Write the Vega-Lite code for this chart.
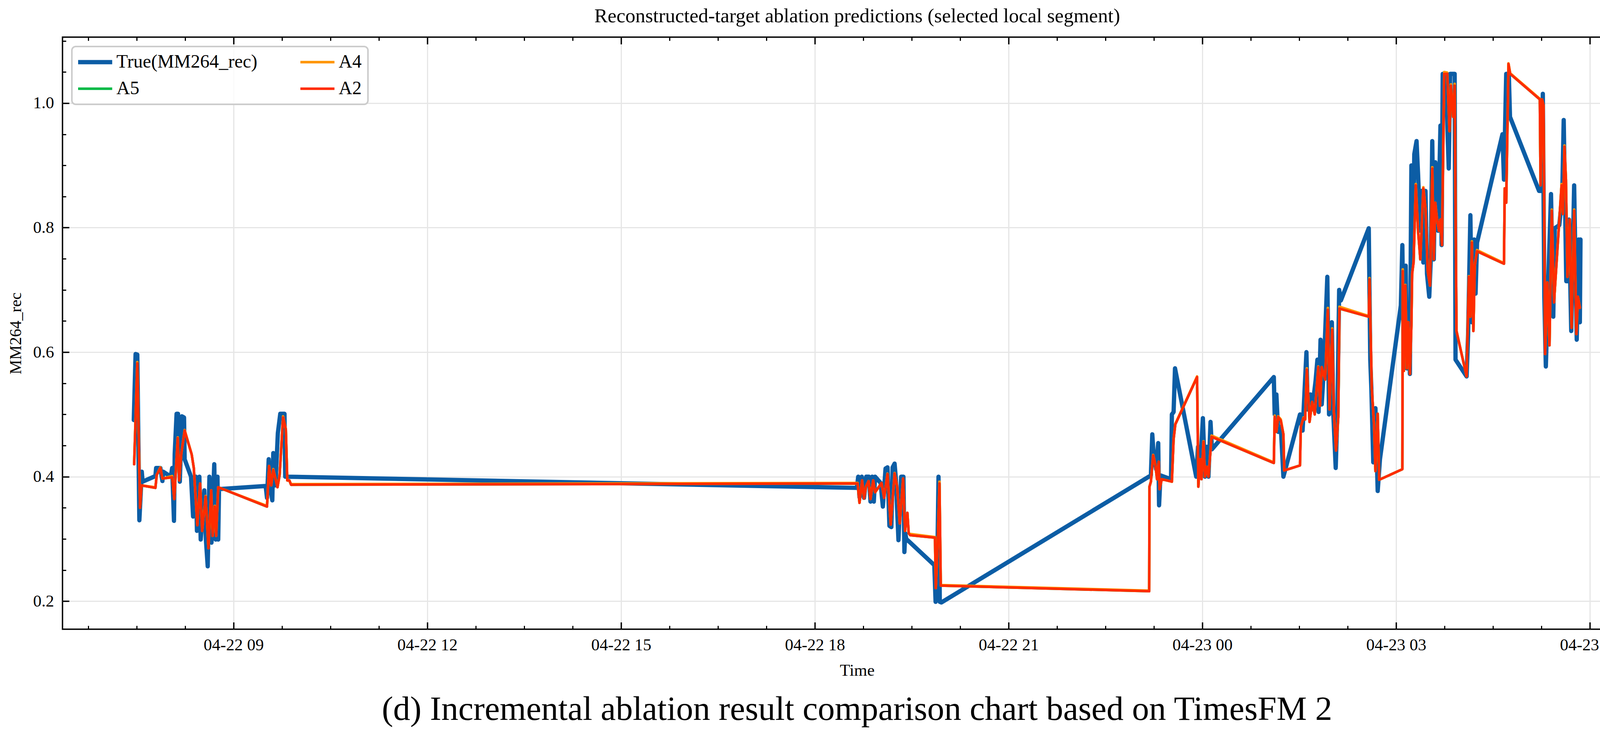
{
  "$schema": "https://vega.github.io/schema/vega-lite/v6.json",
  "width": 4252,
  "height": 1873,
  "autosize": {"type": "fit", "contains": "padding"},
  "padding": {"left": 19, "top": 15, "right": 22, "bottom": 14},
  "background": "white",
  "title": {"text": "(d) Incremental ablation result comparison chart based on TimesFM 2", "orient": "bottom", "anchor": "middle", "fontSize": 87, "font": "Liberation Serif", "fontWeight": "normal", "color": "black", "offset": 36},
  "config": {"font": "Liberation Serif", "view": {"stroke": "black", "strokeWidth": 3.5}},
  "datasets": {
    "truth": [
      {"t": "2025-04-22T07:27:20Z", "v": 0.491},
      {"t": "2025-04-22T07:29:00Z", "v": 0.597},
      {"t": "2025-04-22T07:30:35Z", "v": 0.596},
      {"t": "2025-04-22T07:32:30Z", "v": 0.330},
      {"t": "2025-04-22T07:34:45Z", "v": 0.408},
      {"t": "2025-04-22T07:35:30Z", "v": 0.392},
      {"t": "2025-04-22T07:47:25Z", "v": 0.401},
      {"t": "2025-04-22T07:48:05Z", "v": 0.414},
      {"t": "2025-04-22T07:52:00Z", "v": 0.414},
      {"t": "2025-04-22T07:53:55Z", "v": 0.393},
      {"t": "2025-04-22T07:54:35Z", "v": 0.408},
      {"t": "2025-04-22T08:01:40Z", "v": 0.400},
      {"t": "2025-04-22T08:03:00Z", "v": 0.414},
      {"t": "2025-04-22T08:04:40Z", "v": 0.329},
      {"t": "2025-04-22T08:05:20Z", "v": 0.436},
      {"t": "2025-04-22T08:07:05Z", "v": 0.501},
      {"t": "2025-04-22T08:08:25Z", "v": 0.501},
      {"t": "2025-04-22T08:10:05Z", "v": 0.392},
      {"t": "2025-04-22T08:12:00Z", "v": 0.497},
      {"t": "2025-04-22T08:14:00Z", "v": 0.495},
      {"t": "2025-04-22T08:14:35Z", "v": 0.428},
      {"t": "2025-04-22T08:20:30Z", "v": 0.400},
      {"t": "2025-04-22T08:22:25Z", "v": 0.336},
      {"t": "2025-04-22T08:25:00Z", "v": 0.400},
      {"t": "2025-04-22T08:26:00Z", "v": 0.313},
      {"t": "2025-04-22T08:28:15Z", "v": 0.400},
      {"t": "2025-04-22T08:29:30Z", "v": 0.299},
      {"t": "2025-04-22T08:32:50Z", "v": 0.378},
      {"t": "2025-04-22T08:34:20Z", "v": 0.299},
      {"t": "2025-04-22T08:36:00Z", "v": 0.256},
      {"t": "2025-04-22T08:37:35Z", "v": 0.400},
      {"t": "2025-04-22T08:39:30Z", "v": 0.294},
      {"t": "2025-04-22T08:42:05Z", "v": 0.420},
      {"t": "2025-04-22T08:43:25Z", "v": 0.299},
      {"t": "2025-04-22T08:45:05Z", "v": 0.400},
      {"t": "2025-04-22T08:45:45Z", "v": 0.299},
      {"t": "2025-04-22T08:46:30Z", "v": 0.380},
      {"t": "2025-04-22T09:29:50Z", "v": 0.385},
      {"t": "2025-04-22T09:31:05Z", "v": 0.366},
      {"t": "2025-04-22T09:32:40Z", "v": 0.428},
      {"t": "2025-04-22T09:34:00Z", "v": 0.386},
      {"t": "2025-04-22T09:36:00Z", "v": 0.362},
      {"t": "2025-04-22T09:36:55Z", "v": 0.438},
      {"t": "2025-04-22T09:38:55Z", "v": 0.386},
      {"t": "2025-04-22T09:41:10Z", "v": 0.470},
      {"t": "2025-04-22T09:43:25Z", "v": 0.501},
      {"t": "2025-04-22T09:47:20Z", "v": 0.501},
      {"t": "2025-04-22T09:48:00Z", "v": 0.400},
      {"t": "2025-04-22T18:39:05Z", "v": 0.382},
      {"t": "2025-04-22T18:40:18Z", "v": 0.400},
      {"t": "2025-04-22T18:41:30Z", "v": 0.367},
      {"t": "2025-04-22T18:43:36Z", "v": 0.400},
      {"t": "2025-04-22T18:45:42Z", "v": 0.366},
      {"t": "2025-04-22T18:47:48Z", "v": 0.400},
      {"t": "2025-04-22T18:50:12Z", "v": 0.400},
      {"t": "2025-04-22T18:51:42Z", "v": 0.360},
      {"t": "2025-04-22T18:53:18Z", "v": 0.400},
      {"t": "2025-04-22T18:54:48Z", "v": 0.360},
      {"t": "2025-04-22T18:56:00Z", "v": 0.400},
      {"t": "2025-04-22T19:01:06Z", "v": 0.390},
      {"t": "2025-04-22T19:03:12Z", "v": 0.352},
      {"t": "2025-04-22T19:05:42Z", "v": 0.413},
      {"t": "2025-04-22T19:07:30Z", "v": 0.415},
      {"t": "2025-04-22T19:09:18Z", "v": 0.321},
      {"t": "2025-04-22T19:11:06Z", "v": 0.319},
      {"t": "2025-04-22T19:12:18Z", "v": 0.415},
      {"t": "2025-04-22T19:14:06Z", "v": 0.421},
      {"t": "2025-04-22T19:15:18Z", "v": 0.396},
      {"t": "2025-04-22T19:17:42Z", "v": 0.298},
      {"t": "2025-04-22T19:20:12Z", "v": 0.400},
      {"t": "2025-04-22T19:22:18Z", "v": 0.400},
      {"t": "2025-04-22T19:23:12Z", "v": 0.279},
      {"t": "2025-04-22T19:24:00Z", "v": 0.309},
      {"t": "2025-04-22T19:25:00Z", "v": 0.300},
      {"t": "2025-04-22T19:51:00Z", "v": 0.258},
      {"t": "2025-04-22T19:52:12Z", "v": 0.199},
      {"t": "2025-04-22T19:53:24Z", "v": 0.215},
      {"t": "2025-04-22T19:54:54Z", "v": 0.400},
      {"t": "2025-04-22T19:56:06Z", "v": 0.199},
      {"t": "2025-04-22T19:57:36Z", "v": 0.198},
      {"t": "2025-04-22T23:12:12Z", "v": 0.402},
      {"t": "2025-04-22T23:13:30Z", "v": 0.468},
      {"t": "2025-04-22T23:14:42Z", "v": 0.436},
      {"t": "2025-04-22T23:17:06Z", "v": 0.412},
      {"t": "2025-04-22T23:19:00Z", "v": 0.454},
      {"t": "2025-04-22T23:19:48Z", "v": 0.354},
      {"t": "2025-04-22T23:21:06Z", "v": 0.402},
      {"t": "2025-04-22T23:30:54Z", "v": 0.396},
      {"t": "2025-04-22T23:31:42Z", "v": 0.500},
      {"t": "2025-04-22T23:33:18Z", "v": 0.504},
      {"t": "2025-04-22T23:34:36Z", "v": 0.574},
      {"t": "2025-04-22T23:54:18Z", "v": 0.400},
      {"t": "2025-04-22T23:56:00Z", "v": 0.448},
      {"t": "2025-04-22T23:57:36Z", "v": 0.400},
      {"t": "2025-04-23T00:00:30Z", "v": 0.494},
      {"t": "2025-04-23T00:02:24Z", "v": 0.400},
      {"t": "2025-04-23T00:04:00Z", "v": 0.448},
      {"t": "2025-04-23T00:05:40Z", "v": 0.400},
      {"t": "2025-04-23T00:07:36Z", "v": 0.488},
      {"t": "2025-04-23T00:08:54Z", "v": 0.444},
      {"t": "2025-04-23T01:06:24Z", "v": 0.560},
      {"t": "2025-04-23T01:07:12Z", "v": 0.500},
      {"t": "2025-04-23T01:08:48Z", "v": 0.532},
      {"t": "2025-04-23T01:10:24Z", "v": 0.472},
      {"t": "2025-04-23T01:12:54Z", "v": 0.480},
      {"t": "2025-04-23T01:15:18Z", "v": 0.400},
      {"t": "2025-04-23T01:30:42Z", "v": 0.500},
      {"t": "2025-04-23T01:33:06Z", "v": 0.474},
      {"t": "2025-04-23T01:33:54Z", "v": 0.500},
      {"t": "2025-04-23T01:36:42Z", "v": 0.600},
      {"t": "2025-04-23T01:37:54Z", "v": 0.508},
      {"t": "2025-04-23T01:40:24Z", "v": 0.532},
      {"t": "2025-04-23T01:42:00Z", "v": 0.508},
      {"t": "2025-04-23T01:45:12Z", "v": 0.554},
      {"t": "2025-04-23T01:46:54Z", "v": 0.588},
      {"t": "2025-04-23T01:48:00Z", "v": 0.504},
      {"t": "2025-04-23T01:49:48Z", "v": 0.620},
      {"t": "2025-04-23T01:50:54Z", "v": 0.516},
      {"t": "2025-04-23T01:52:48Z", "v": 0.572},
      {"t": "2025-04-23T01:56:06Z", "v": 0.721},
      {"t": "2025-04-23T01:57:42Z", "v": 0.500},
      {"t": "2025-04-23T02:00:18Z", "v": 0.648},
      {"t": "2025-04-23T02:01:36Z", "v": 0.504},
      {"t": "2025-04-23T02:03:54Z", "v": 0.414},
      {"t": "2025-04-23T02:05:30Z", "v": 0.508},
      {"t": "2025-04-23T02:07:06Z", "v": 0.700},
      {"t": "2025-04-23T02:08:42Z", "v": 0.683},
      {"t": "2025-04-23T02:34:36Z", "v": 0.799},
      {"t": "2025-04-23T02:36:00Z", "v": 0.588},
      {"t": "2025-04-23T02:37:00Z", "v": 0.542},
      {"t": "2025-04-23T02:38:48Z", "v": 0.423},
      {"t": "2025-04-23T02:40:48Z", "v": 0.510},
      {"t": "2025-04-23T02:42:54Z", "v": 0.377},
      {"t": "2025-04-23T02:45:00Z", "v": 0.428},
      {"t": "2025-04-23T03:04:24Z", "v": 0.675},
      {"t": "2025-04-23T03:05:48Z", "v": 0.772},
      {"t": "2025-04-23T03:07:12Z", "v": 0.574},
      {"t": "2025-04-23T03:08:54Z", "v": 0.739},
      {"t": "2025-04-23T03:10:00Z", "v": 0.574},
      {"t": "2025-04-23T03:11:24Z", "v": 0.666},
      {"t": "2025-04-23T03:12:48Z", "v": 0.565},
      {"t": "2025-04-23T03:14:12Z", "v": 0.900},
      {"t": "2025-04-23T03:15:30Z", "v": 0.744},
      {"t": "2025-04-23T03:16:54Z", "v": 0.918},
      {"t": "2025-04-23T03:19:00Z", "v": 0.939},
      {"t": "2025-04-23T03:20:24Z", "v": 0.886},
      {"t": "2025-04-23T03:22:30Z", "v": 0.795},
      {"t": "2025-04-23T03:23:54Z", "v": 0.859},
      {"t": "2025-04-23T03:25:18Z", "v": 0.744},
      {"t": "2025-04-23T03:27:18Z", "v": 0.859},
      {"t": "2025-04-23T03:28:42Z", "v": 0.726},
      {"t": "2025-04-23T03:30:48Z", "v": 0.689},
      {"t": "2025-04-23T03:32:12Z", "v": 0.749},
      {"t": "2025-04-23T03:33:36Z", "v": 0.939},
      {"t": "2025-04-23T03:35:00Z", "v": 0.749},
      {"t": "2025-04-23T03:36:24Z", "v": 0.905},
      {"t": "2025-04-23T03:37:48Z", "v": 0.882},
      {"t": "2025-04-23T03:39:06Z", "v": 0.795},
      {"t": "2025-04-23T03:41:12Z", "v": 0.964},
      {"t": "2025-04-23T03:42:18Z", "v": 0.772},
      {"t": "2025-04-23T03:43:18Z", "v": 1.047},
      {"t": "2025-04-23T03:46:06Z", "v": 1.047},
      {"t": "2025-04-23T03:48:54Z", "v": 0.895},
      {"t": "2025-04-23T03:50:12Z", "v": 1.047},
      {"t": "2025-04-23T03:54:24Z", "v": 1.047},
      {"t": "2025-04-23T03:55:12Z", "v": 0.588},
      {"t": "2025-04-23T04:05:30Z", "v": 0.561},
      {"t": "2025-04-23T04:06:54Z", "v": 0.629},
      {"t": "2025-04-23T04:09:00Z", "v": 0.820},
      {"t": "2025-04-23T04:10:24Z", "v": 0.648},
      {"t": "2025-04-23T04:12:30Z", "v": 0.781},
      {"t": "2025-04-23T04:13:48Z", "v": 0.694},
      {"t": "2025-04-23T04:15:12Z", "v": 0.776},
      {"t": "2025-04-23T04:38:48Z", "v": 0.950},
      {"t": "2025-04-23T04:40:12Z", "v": 0.877},
      {"t": "2025-04-23T04:42:18Z", "v": 1.047},
      {"t": "2025-04-23T04:44:42Z", "v": 1.047},
      {"t": "2025-04-23T04:45:48Z", "v": 0.978},
      {"t": "2025-04-23T05:12:48Z", "v": 0.859},
      {"t": "2025-04-23T05:14:54Z", "v": 0.859},
      {"t": "2025-04-23T05:16:18Z", "v": 1.015},
      {"t": "2025-04-23T05:17:42Z", "v": 0.689},
      {"t": "2025-04-23T05:19:06Z", "v": 0.577},
      {"t": "2025-04-23T05:21:12Z", "v": 0.703},
      {"t": "2025-04-23T05:23:54Z", "v": 0.854},
      {"t": "2025-04-23T05:26:00Z", "v": 0.657},
      {"t": "2025-04-23T05:27:24Z", "v": 0.799},
      {"t": "2025-04-23T05:31:36Z", "v": 0.804},
      {"t": "2025-04-23T05:34:18Z", "v": 0.850},
      {"t": "2025-04-23T05:35:42Z", "v": 0.973},
      {"t": "2025-04-23T05:37:06Z", "v": 0.822},
      {"t": "2025-04-23T05:38:06Z", "v": 0.714},
      {"t": "2025-04-23T05:39:30Z", "v": 0.714},
      {"t": "2025-04-23T05:40:36Z", "v": 0.813},
      {"t": "2025-04-23T05:42:42Z", "v": 0.634},
      {"t": "2025-04-23T05:45:24Z", "v": 0.868},
      {"t": "2025-04-23T05:47:48Z", "v": 0.620},
      {"t": "2025-04-23T05:49:36Z", "v": 0.781},
      {"t": "2025-04-23T05:50:42Z", "v": 0.648},
      {"t": "2025-04-23T05:51:18Z", "v": 0.781}
    ],
    "pred": [
      {"t": "2025-04-22T07:27:40Z", "a5": 0.420, "a4": 0.421, "a2": 0.420},
      {"t": "2025-04-22T07:30:35Z", "a5": 0.582, "a4": 0.584, "a2": 0.582},
      {"t": "2025-04-22T07:31:55Z", "a5": 0.464, "a4": 0.464, "a2": 0.464},
      {"t": "2025-04-22T07:33:10Z", "a5": 0.350, "a4": 0.351, "a2": 0.350},
      {"t": "2025-04-22T07:34:30Z", "a5": 0.386, "a4": 0.386, "a2": 0.386},
      {"t": "2025-04-22T07:47:25Z", "a5": 0.382, "a4": 0.383, "a2": 0.382},
      {"t": "2025-04-22T07:48:40Z", "a5": 0.403, "a4": 0.403, "a2": 0.403},
      {"t": "2025-04-22T07:52:00Z", "a5": 0.414, "a4": 0.415, "a2": 0.414},
      {"t": "2025-04-22T07:53:55Z", "a5": 0.397, "a4": 0.397, "a2": 0.397},
      {"t": "2025-04-22T08:03:00Z", "a5": 0.399, "a4": 0.401, "a2": 0.399},
      {"t": "2025-04-22T08:04:55Z", "a5": 0.364, "a4": 0.364, "a2": 0.364},
      {"t": "2025-04-22T08:08:10Z", "a5": 0.462, "a4": 0.463, "a2": 0.462},
      {"t": "2025-04-22T08:09:30Z", "a5": 0.394, "a4": 0.394, "a2": 0.394},
      {"t": "2025-04-22T08:11:25Z", "a5": 0.436, "a4": 0.436, "a2": 0.436},
      {"t": "2025-04-22T08:14:35Z", "a5": 0.474, "a4": 0.475, "a2": 0.474},
      {"t": "2025-04-22T08:21:05Z", "a5": 0.436, "a4": 0.436, "a2": 0.436},
      {"t": "2025-04-22T08:23:05Z", "a5": 0.414, "a4": 0.414, "a2": 0.414},
      {"t": "2025-04-22T08:26:20Z", "a5": 0.322, "a4": 0.323, "a2": 0.322},
      {"t": "2025-04-22T08:28:55Z", "a5": 0.389, "a4": 0.389, "a2": 0.389},
      {"t": "2025-04-22T08:30:50Z", "a5": 0.313, "a4": 0.313, "a2": 0.313},
      {"t": "2025-04-22T08:34:05Z", "a5": 0.368, "a4": 0.369, "a2": 0.368},
      {"t": "2025-04-22T08:36:40Z", "a5": 0.285, "a4": 0.285, "a2": 0.285},
      {"t": "2025-04-22T08:39:15Z", "a5": 0.378, "a4": 0.378, "a2": 0.378},
      {"t": "2025-04-22T08:40:35Z", "a5": 0.305, "a4": 0.305, "a2": 0.305},
      {"t": "2025-04-22T08:42:30Z", "a5": 0.352, "a4": 0.353, "a2": 0.352},
      {"t": "2025-04-22T08:43:50Z", "a5": 0.305, "a4": 0.305, "a2": 0.305},
      {"t": "2025-04-22T08:45:45Z", "a5": 0.383, "a4": 0.383, "a2": 0.383},
      {"t": "2025-04-22T09:31:05Z", "a5": 0.352, "a4": 0.353, "a2": 0.352},
      {"t": "2025-04-22T09:33:00Z", "a5": 0.417, "a4": 0.417, "a2": 0.417},
      {"t": "2025-04-22T09:35:00Z", "a5": 0.386, "a4": 0.386, "a2": 0.386},
      {"t": "2025-04-22T09:36:55Z", "a5": 0.411, "a4": 0.412, "a2": 0.411},
      {"t": "2025-04-22T09:40:50Z", "a5": 0.383, "a4": 0.383, "a2": 0.383},
      {"t": "2025-04-22T09:42:50Z", "a5": 0.403, "a4": 0.403, "a2": 0.403},
      {"t": "2025-04-22T09:46:00Z", "a5": 0.495, "a4": 0.497, "a2": 0.495},
      {"t": "2025-04-22T09:48:35Z", "a5": 0.476, "a4": 0.476, "a2": 0.476},
      {"t": "2025-04-22T09:49:55Z", "a5": 0.394, "a4": 0.394, "a2": 0.394},
      {"t": "2025-04-22T09:51:50Z", "a5": 0.394, "a4": 0.394, "a2": 0.394},
      {"t": "2025-04-22T09:53:25Z", "a5": 0.387, "a4": 0.388, "a2": 0.387},
      {"t": "2025-04-22T18:39:42Z", "a5": 0.389, "a4": 0.390, "a2": 0.389},
      {"t": "2025-04-22T18:41:30Z", "a5": 0.358, "a4": 0.358, "a2": 0.358},
      {"t": "2025-04-22T18:43:54Z", "a5": 0.394, "a4": 0.394, "a2": 0.394},
      {"t": "2025-04-22T18:45:42Z", "a5": 0.365, "a4": 0.365, "a2": 0.365},
      {"t": "2025-04-22T18:47:30Z", "a5": 0.384, "a4": 0.384, "a2": 0.384},
      {"t": "2025-04-22T18:49:54Z", "a5": 0.393, "a4": 0.393, "a2": 0.393},
      {"t": "2025-04-22T18:51:42Z", "a5": 0.364, "a4": 0.364, "a2": 0.364},
      {"t": "2025-04-22T18:54:12Z", "a5": 0.394, "a4": 0.394, "a2": 0.394},
      {"t": "2025-04-22T18:56:00Z", "a5": 0.375, "a4": 0.375, "a2": 0.375},
      {"t": "2025-04-22T19:02:00Z", "a5": 0.390, "a4": 0.390, "a2": 0.390},
      {"t": "2025-04-22T19:04:24Z", "a5": 0.366, "a4": 0.366, "a2": 0.366},
      {"t": "2025-04-22T19:07:30Z", "a5": 0.404, "a4": 0.405, "a2": 0.404},
      {"t": "2025-04-22T19:10:30Z", "a5": 0.323, "a4": 0.323, "a2": 0.323},
      {"t": "2025-04-22T19:14:06Z", "a5": 0.405, "a4": 0.406, "a2": 0.405},
      {"t": "2025-04-22T19:16:30Z", "a5": 0.384, "a4": 0.384, "a2": 0.384},
      {"t": "2025-04-22T19:18:54Z", "a5": 0.325, "a4": 0.325, "a2": 0.325},
      {"t": "2025-04-22T19:22:00Z", "a5": 0.397, "a4": 0.397, "a2": 0.397},
      {"t": "2025-04-22T19:23:48Z", "a5": 0.313, "a4": 0.313, "a2": 0.313},
      {"t": "2025-04-22T19:26:00Z", "a5": 0.342, "a4": 0.342, "a2": 0.342},
      {"t": "2025-04-22T19:27:12Z", "a5": 0.309, "a4": 0.309, "a2": 0.309},
      {"t": "2025-04-22T19:28:36Z", "a5": 0.306, "a4": 0.308, "a2": 0.306},
      {"t": "2025-04-22T19:51:36Z", "a5": 0.302, "a4": 0.303, "a2": 0.302},
      {"t": "2025-04-22T19:52:24Z", "a5": 0.221, "a4": 0.221, "a2": 0.221},
      {"t": "2025-04-22T19:54:00Z", "a5": 0.286, "a4": 0.286, "a2": 0.286},
      {"t": "2025-04-22T19:55:48Z", "a5": 0.389, "a4": 0.392, "a2": 0.389},
      {"t": "2025-04-22T19:57:00Z", "a5": 0.225, "a4": 0.226, "a2": 0.225},
      {"t": "2025-04-22T23:10:36Z", "a5": 0.216, "a4": 0.217, "a2": 0.216},
      {"t": "2025-04-22T23:10:54Z", "a5": 0.384, "a4": 0.384, "a2": 0.384},
      {"t": "2025-04-22T23:12:12Z", "a5": 0.392, "a4": 0.392, "a2": 0.392},
      {"t": "2025-04-22T23:14:18Z", "a5": 0.434, "a4": 0.435, "a2": 0.434},
      {"t": "2025-04-22T23:16:18Z", "a5": 0.420, "a4": 0.420, "a2": 0.420},
      {"t": "2025-04-22T23:17:54Z", "a5": 0.396, "a4": 0.396, "a2": 0.396},
      {"t": "2025-04-22T23:19:30Z", "a5": 0.424, "a4": 0.424, "a2": 0.424},
      {"t": "2025-04-22T23:20:18Z", "a5": 0.380, "a4": 0.380, "a2": 0.380},
      {"t": "2025-04-22T23:22:18Z", "a5": 0.396, "a4": 0.396, "a2": 0.396},
      {"t": "2025-04-22T23:31:42Z", "a5": 0.392, "a4": 0.392, "a2": 0.392},
      {"t": "2025-04-22T23:33:18Z", "a5": 0.460, "a4": 0.461, "a2": 0.460},
      {"t": "2025-04-22T23:34:54Z", "a5": 0.484, "a4": 0.485, "a2": 0.484},
      {"t": "2025-04-22T23:55:06Z", "a5": 0.560, "a4": 0.561, "a2": 0.560},
      {"t": "2025-04-22T23:56:18Z", "a5": 0.384, "a4": 0.384, "a2": 0.384},
      {"t": "2025-04-22T23:57:54Z", "a5": 0.428, "a4": 0.428, "a2": 0.428},
      {"t": "2025-04-22T23:59:12Z", "a5": 0.396, "a4": 0.396, "a2": 0.396},
      {"t": "2025-04-23T00:01:06Z", "a5": 0.456, "a4": 0.457, "a2": 0.456},
      {"t": "2025-04-23T00:02:24Z", "a5": 0.400, "a4": 0.400, "a2": 0.400},
      {"t": "2025-04-23T00:04:00Z", "a5": 0.416, "a4": 0.416, "a2": 0.416},
      {"t": "2025-04-23T00:05:42Z", "a5": 0.400, "a4": 0.400, "a2": 0.400},
      {"t": "2025-04-23T00:08:36Z", "a5": 0.464, "a4": 0.466, "a2": 0.464},
      {"t": "2025-04-23T01:06:24Z", "a5": 0.422, "a4": 0.423, "a2": 0.422},
      {"t": "2025-04-23T01:07:12Z", "a5": 0.496, "a4": 0.498, "a2": 0.496},
      {"t": "2025-04-23T01:08:48Z", "a5": 0.472, "a4": 0.472, "a2": 0.472},
      {"t": "2025-04-23T01:10:24Z", "a5": 0.496, "a4": 0.497, "a2": 0.496},
      {"t": "2025-04-23T01:12:54Z", "a5": 0.490, "a4": 0.492, "a2": 0.490},
      {"t": "2025-04-23T01:15:18Z", "a5": 0.468, "a4": 0.468, "a2": 0.468},
      {"t": "2025-04-23T01:16:06Z", "a5": 0.410, "a4": 0.410, "a2": 0.410},
      {"t": "2025-04-23T01:30:42Z", "a5": 0.418, "a4": 0.418, "a2": 0.418},
      {"t": "2025-04-23T01:31:30Z", "a5": 0.480, "a4": 0.480, "a2": 0.480},
      {"t": "2025-04-23T01:33:54Z", "a5": 0.494, "a4": 0.495, "a2": 0.494},
      {"t": "2025-04-23T01:35:30Z", "a5": 0.492, "a4": 0.492, "a2": 0.492},
      {"t": "2025-04-23T01:37:06Z", "a5": 0.572, "a4": 0.574, "a2": 0.572},
      {"t": "2025-04-23T01:39:36Z", "a5": 0.488, "a4": 0.488, "a2": 0.488},
      {"t": "2025-04-23T01:42:00Z", "a5": 0.520, "a4": 0.520, "a2": 0.520},
      {"t": "2025-04-23T01:44:24Z", "a5": 0.500, "a4": 0.500, "a2": 0.500},
      {"t": "2025-04-23T01:47:42Z", "a5": 0.576, "a4": 0.577, "a2": 0.576},
      {"t": "2025-04-23T01:49:18Z", "a5": 0.514, "a4": 0.514, "a2": 0.514},
      {"t": "2025-04-23T01:50:54Z", "a5": 0.576, "a4": 0.576, "a2": 0.576},
      {"t": "2025-04-23T01:54:06Z", "a5": 0.556, "a4": 0.556, "a2": 0.556},
      {"t": "2025-04-23T01:56:36Z", "a5": 0.668, "a4": 0.671, "a2": 0.668},
      {"t": "2025-04-23T01:58:12Z", "a5": 0.508, "a4": 0.508, "a2": 0.508},
      {"t": "2025-04-23T02:00:36Z", "a5": 0.636, "a4": 0.638, "a2": 0.636},
      {"t": "2025-04-23T02:02:12Z", "a5": 0.504, "a4": 0.504, "a2": 0.504},
      {"t": "2025-04-23T02:04:12Z", "a5": 0.442, "a4": 0.442, "a2": 0.442},
      {"t": "2025-04-23T02:06:18Z", "a5": 0.496, "a4": 0.496, "a2": 0.496},
      {"t": "2025-04-23T02:07:24Z", "a5": 0.670, "a4": 0.673, "a2": 0.670},
      {"t": "2025-04-23T02:34:36Z", "a5": 0.657, "a4": 0.658, "a2": 0.657},
      {"t": "2025-04-23T02:35:18Z", "a5": 0.717, "a4": 0.719, "a2": 0.717},
      {"t": "2025-04-23T02:37:24Z", "a5": 0.542, "a4": 0.542, "a2": 0.542},
      {"t": "2025-04-23T02:39:30Z", "a5": 0.483, "a4": 0.483, "a2": 0.483},
      {"t": "2025-04-23T02:40:48Z", "a5": 0.409, "a4": 0.409, "a2": 0.409},
      {"t": "2025-04-23T02:42:54Z", "a5": 0.501, "a4": 0.501, "a2": 0.501},
      {"t": "2025-04-23T02:44:18Z", "a5": 0.395, "a4": 0.395, "a2": 0.395},
      {"t": "2025-04-23T03:05:48Z", "a5": 0.412, "a4": 0.412, "a2": 0.412},
      {"t": "2025-04-23T03:06:12Z", "a5": 0.730, "a4": 0.733, "a2": 0.730},
      {"t": "2025-04-23T03:07:12Z", "a5": 0.570, "a4": 0.570, "a2": 0.570},
      {"t": "2025-04-23T03:08:36Z", "a5": 0.707, "a4": 0.708, "a2": 0.707},
      {"t": "2025-04-23T03:10:00Z", "a5": 0.574, "a4": 0.574, "a2": 0.574},
      {"t": "2025-04-23T03:11:24Z", "a5": 0.648, "a4": 0.648, "a2": 0.648},
      {"t": "2025-04-23T03:12:48Z", "a5": 0.565, "a4": 0.565, "a2": 0.565},
      {"t": "2025-04-23T03:14:12Z", "a5": 0.643, "a4": 0.643, "a2": 0.643},
      {"t": "2025-04-23T03:14:54Z", "a5": 0.726, "a4": 0.726, "a2": 0.726},
      {"t": "2025-04-23T03:16:12Z", "a5": 0.744, "a4": 0.744, "a2": 0.744},
      {"t": "2025-04-23T03:18:18Z", "a5": 0.868, "a4": 0.870, "a2": 0.868},
      {"t": "2025-04-23T03:20:24Z", "a5": 0.795, "a4": 0.795, "a2": 0.795},
      {"t": "2025-04-23T03:22:30Z", "a5": 0.749, "a4": 0.749, "a2": 0.749},
      {"t": "2025-04-23T03:25:18Z", "a5": 0.863, "a4": 0.865, "a2": 0.863},
      {"t": "2025-04-23T03:27:18Z", "a5": 0.831, "a4": 0.831, "a2": 0.831},
      {"t": "2025-04-23T03:29:24Z", "a5": 0.730, "a4": 0.730, "a2": 0.730},
      {"t": "2025-04-23T03:31:30Z", "a5": 0.707, "a4": 0.707, "a2": 0.707},
      {"t": "2025-04-23T03:33:36Z", "a5": 0.895, "a4": 0.897, "a2": 0.895},
      {"t": "2025-04-23T03:35:00Z", "a5": 0.749, "a4": 0.749, "a2": 0.749},
      {"t": "2025-04-23T03:36:24Z", "a5": 0.840, "a4": 0.840, "a2": 0.840},
      {"t": "2025-04-23T03:37:48Z", "a5": 0.817, "a4": 0.817, "a2": 0.817},
      {"t": "2025-04-23T03:39:48Z", "a5": 0.795, "a4": 0.795, "a2": 0.795},
      {"t": "2025-04-23T03:41:12Z", "a5": 0.813, "a4": 0.813, "a2": 0.813},
      {"t": "2025-04-23T03:42:36Z", "a5": 0.772, "a4": 0.772, "a2": 0.772},
      {"t": "2025-04-23T03:44:42Z", "a5": 1.047, "a4": 1.050, "a2": 1.047},
      {"t": "2025-04-23T03:47:30Z", "a5": 1.047, "a4": 1.049, "a2": 1.047},
      {"t": "2025-04-23T03:49:36Z", "a5": 0.955, "a4": 0.955, "a2": 0.955},
      {"t": "2025-04-23T03:50:54Z", "a5": 1.028, "a4": 1.030, "a2": 1.028},
      {"t": "2025-04-23T03:53:00Z", "a5": 0.978, "a4": 0.978, "a2": 0.978},
      {"t": "2025-04-23T03:54:24Z", "a5": 1.028, "a4": 1.031, "a2": 1.028},
      {"t": "2025-04-23T03:56:06Z", "a5": 0.634, "a4": 0.634, "a2": 0.634},
      {"t": "2025-04-23T04:05:30Z", "a5": 0.561, "a4": 0.561, "a2": 0.561},
      {"t": "2025-04-23T04:07:36Z", "a5": 0.721, "a4": 0.722, "a2": 0.721},
      {"t": "2025-04-23T04:09:00Z", "a5": 0.657, "a4": 0.657, "a2": 0.657},
      {"t": "2025-04-23T04:10:24Z", "a5": 0.776, "a4": 0.778, "a2": 0.776},
      {"t": "2025-04-23T04:11:48Z", "a5": 0.634, "a4": 0.634, "a2": 0.634},
      {"t": "2025-04-23T04:13:06Z", "a5": 0.739, "a4": 0.739, "a2": 0.739},
      {"t": "2025-04-23T04:15:12Z", "a5": 0.762, "a4": 0.764, "a2": 0.762},
      {"t": "2025-04-23T04:40:12Z", "a5": 0.742, "a4": 0.743, "a2": 0.742},
      {"t": "2025-04-23T04:40:54Z", "a5": 0.863, "a4": 0.863, "a2": 0.863},
      {"t": "2025-04-23T04:42:18Z", "a5": 0.840, "a4": 0.840, "a2": 0.840},
      {"t": "2025-04-23T04:44:24Z", "a5": 1.063, "a4": 1.064, "a2": 1.063},
      {"t": "2025-04-23T04:46:00Z", "a5": 1.047, "a4": 1.048, "a2": 1.047},
      {"t": "2025-04-23T05:13:30Z", "a5": 1.006, "a4": 1.007, "a2": 1.006},
      {"t": "2025-04-23T05:14:12Z", "a5": 0.868, "a4": 0.868, "a2": 0.868},
      {"t": "2025-04-23T05:15:36Z", "a5": 1.006, "a4": 1.006, "a2": 1.006},
      {"t": "2025-04-23T05:17:00Z", "a5": 0.996, "a4": 0.996, "a2": 0.996},
      {"t": "2025-04-23T05:18:24Z", "a5": 0.597, "a4": 0.597, "a2": 0.597},
      {"t": "2025-04-23T05:20:30Z", "a5": 0.712, "a4": 0.712, "a2": 0.712},
      {"t": "2025-04-23T05:22:30Z", "a5": 0.611, "a4": 0.611, "a2": 0.611},
      {"t": "2025-04-23T05:24:36Z", "a5": 0.827, "a4": 0.829, "a2": 0.827},
      {"t": "2025-04-23T05:26:42Z", "a5": 0.680, "a4": 0.680, "a2": 0.680},
      {"t": "2025-04-23T05:33:42Z", "a5": 0.868, "a4": 0.870, "a2": 0.868},
      {"t": "2025-04-23T05:35:00Z", "a5": 0.822, "a4": 0.822, "a2": 0.822},
      {"t": "2025-04-23T05:36:24Z", "a5": 0.930, "a4": 0.932, "a2": 0.930},
      {"t": "2025-04-23T05:37:48Z", "a5": 0.877, "a4": 0.877, "a2": 0.877},
      {"t": "2025-04-23T05:39:12Z", "a5": 0.721, "a4": 0.721, "a2": 0.721},
      {"t": "2025-04-23T05:41:18Z", "a5": 0.813, "a4": 0.813, "a2": 0.813},
      {"t": "2025-04-23T05:43:00Z", "a5": 0.639, "a4": 0.639, "a2": 0.639},
      {"t": "2025-04-23T05:45:24Z", "a5": 0.827, "a4": 0.829, "a2": 0.827},
      {"t": "2025-04-23T05:47:30Z", "a5": 0.629, "a4": 0.629, "a2": 0.629},
      {"t": "2025-04-23T05:48:54Z", "a5": 0.689, "a4": 0.689, "a2": 0.689},
      {"t": "2025-04-23T05:50:42Z", "a5": 0.671, "a4": 0.672, "a2": 0.671}
    ]
  },
  "resolve": {"axis": {"x": "independent", "y": "independent"}},
  "layer": [
    {
      "data": {"name": "truth"},
      "mark": {"type": "line", "strokeWidth": 11, "strokeJoin": "round", "strokeCap": "round"},
      "encoding": {
        "x": {"field": "t", "type": "temporal",
          "scale": {"type": "utc", "domain": [1745302866000, 1745391439000], "nice": false},
          "axis": {"orient": "bottom", "title": "Time", "titleFont": "Liberation Serif", "titleFontSize": 43, "titleFontWeight": "normal", "titleColor": "black", "titlePadding": 22,
            "values": [1745312400000, 1745323200000, 1745334000000, 1745344800000, 1745355600000, 1745366400000, 1745377200000, 1745388000000],
            "format": "%m-%d %H", "labelFont": "Liberation Serif", "labelFontSize": 43, "labelColor": "black", "labelPadding": 37, "labelFlush": false, "labelOverlap": false, "labelBound": false, "labelAlign": "center",
            "tickSize": -18, "tickWidth": 3.5, "tickColor": "black", "domain": false, "grid": true, "gridColor": "#e6e6e6", "gridWidth": 3}},
        "y": {"field": "v", "type": "quantitative",
          "scale": {"domain": [0.155, 1.106], "nice": false, "zero": false},
          "axis": {"orient": "left", "title": "MM264_rec", "titleFont": "Liberation Serif", "titleFontSize": 42, "titleFontWeight": "normal", "titleColor": "black", "titlePadding": 22,
            "values": [0.2, 0.4, 0.6, 0.8, 1.0], "format": ".1f", "labelFont": "Liberation Serif", "labelFontSize": 43, "labelColor": "black", "labelPadding": 39, "labelFlush": false, "labelOverlap": false,
            "tickSize": -17, "tickWidth": 3.5, "tickColor": "black", "domain": false, "grid": true, "gridColor": "#e6e6e6", "gridWidth": 3}},
        "color": {"datum": "True(MM264_rec)", "type": "nominal",
          "scale": {"domain": ["True(MM264_rec)", "A5", "A4", "A2"], "range": ["#0C5DA5", "#00B945", "#FF9500", "#FF2C00"]},
          "legend": {"title": null, "orient": "top-left", "offset": 24, "columns": 2, "symbolType": "stroke", "symbolSize": 16000, "clipHeight": 48,
            "labelFont": "Liberation Serif", "labelFontSize": 48, "labelColor": "black", "labelOffset": 50, "labelLimit": 2000, "columnPadding": 110, "rowPadding": 20, "padding": 16,
            "fillColor": "rgba(255,255,255,0.8)", "strokeColor": "#cccccc", "cornerRadius": 10, "symbolStrokeWidth": 8,
            "encode": {"legend": {"update": {"strokeWidth": {"value": 4}}}, "symbols": {"update": {"strokeWidth": {"signal": "datum.value === 'True(MM264_rec)' ? 11 : 6.5"}}}}}}
      }
    },
    {
      "data": {"name": "pred"},
      "mark": {"type": "line", "strokeWidth": 6.5, "strokeJoin": "round", "strokeCap": "round"},
      "encoding": {
        "x": {"field": "t", "type": "temporal",
          "scale": {"type": "utc", "domain": [1745302866000, 1745391439000], "nice": false},
          "axis": {"orient": "top", "title": "Reconstructed-target ablation predictions (selected local segment)", "titleFont": "Liberation Serif", "titleFontSize": 51, "titleFontWeight": "normal", "titleColor": "black", "titlePadding": 26,
            "values": [1745312400000, 1745323200000, 1745334000000, 1745344800000, 1745355600000, 1745366400000, 1745377200000, 1745388000000],
            "labels": false, "tickSize": -18, "tickWidth": 3.5, "tickColor": "black", "domain": false, "grid": false}},
        "y": {"field": "a5", "type": "quantitative",
          "scale": {"domain": [0.155, 1.106], "nice": false, "zero": false},
          "axis": {"orient": "right", "title": null, "values": [0.2, 0.4, 0.6, 0.8, 1.0], "labels": false, "tickSize": -17, "tickWidth": 3.5, "tickColor": "black", "domain": false, "grid": false}},
        "color": {"datum": "A5", "type": "nominal", "scale": {"domain": ["True(MM264_rec)", "A5", "A4", "A2"], "range": ["#0C5DA5", "#00B945", "#FF9500", "#FF2C00"]}}
      }
    },
    {
      "data": {"name": "pred"},
      "mark": {"type": "line", "strokeWidth": 6.5, "strokeJoin": "round", "strokeCap": "round"},
      "encoding": {
        "x": {"field": "t", "type": "temporal",
          "scale": {"type": "utc", "domain": [1745302866000, 1745391439000], "nice": false},
          "axis": {"orient": "bottom", "title": null,
            "values": [1745304300000, 1745307000000, 1745309700000, 1745315100000, 1745317800000, 1745320500000, 1745325900000, 1745328600000, 1745331300000, 1745336700000, 1745339400000, 1745342100000, 1745347500000, 1745350200000, 1745352900000, 1745358300000, 1745361000000, 1745363700000, 1745369100000, 1745371800000, 1745374500000, 1745379900000, 1745382600000, 1745385300000, 1745390700000],
            "labels": false, "tickSize": -9, "tickWidth": 3, "tickColor": "black", "domain": false, "grid": false}},
        "y": {"field": "a4", "type": "quantitative",
          "scale": {"domain": [0.155, 1.106], "nice": false, "zero": false},
          "axis": {"orient": "left", "title": null, "values": [0.25, 0.3, 0.35, 0.45, 0.5, 0.55, 0.65, 0.7, 0.75, 0.85, 0.9, 0.95, 1.05, 1.1], "labels": false, "tickSize": -9, "tickWidth": 3, "tickColor": "black", "domain": false, "grid": false}},
        "color": {"datum": "A4", "type": "nominal", "scale": {"domain": ["True(MM264_rec)", "A5", "A4", "A2"], "range": ["#0C5DA5", "#00B945", "#FF9500", "#FF2C00"]}}
      }
    },
    {
      "data": {"name": "pred"},
      "mark": {"type": "line", "strokeWidth": 6.5, "strokeJoin": "round", "strokeCap": "round"},
      "encoding": {
        "x": {"field": "t", "type": "temporal",
          "scale": {"type": "utc", "domain": [1745302866000, 1745391439000], "nice": false},
          "axis": {"orient": "top", "title": null,
            "values": [1745304300000, 1745307000000, 1745309700000, 1745315100000, 1745317800000, 1745320500000, 1745325900000, 1745328600000, 1745331300000, 1745336700000, 1745339400000, 1745342100000, 1745347500000, 1745350200000, 1745352900000, 1745358300000, 1745361000000, 1745363700000, 1745369100000, 1745371800000, 1745374500000, 1745379900000, 1745382600000, 1745385300000, 1745390700000],
            "labels": false, "tickSize": -9, "tickWidth": 3, "tickColor": "black", "domain": false, "grid": false}},
        "y": {"field": "a2", "type": "quantitative",
          "scale": {"domain": [0.155, 1.106], "nice": false, "zero": false},
          "axis": {"orient": "right", "title": null, "values": [0.25, 0.3, 0.35, 0.45, 0.5, 0.55, 0.65, 0.7, 0.75, 0.85, 0.9, 0.95, 1.05, 1.1], "labels": false, "tickSize": -9, "tickWidth": 3, "tickColor": "black", "domain": false, "grid": false}},
        "color": {"datum": "A2", "type": "nominal", "scale": {"domain": ["True(MM264_rec)", "A5", "A4", "A2"], "range": ["#0C5DA5", "#00B945", "#FF9500", "#FF2C00"]}}
      }
    }
  ]
}
